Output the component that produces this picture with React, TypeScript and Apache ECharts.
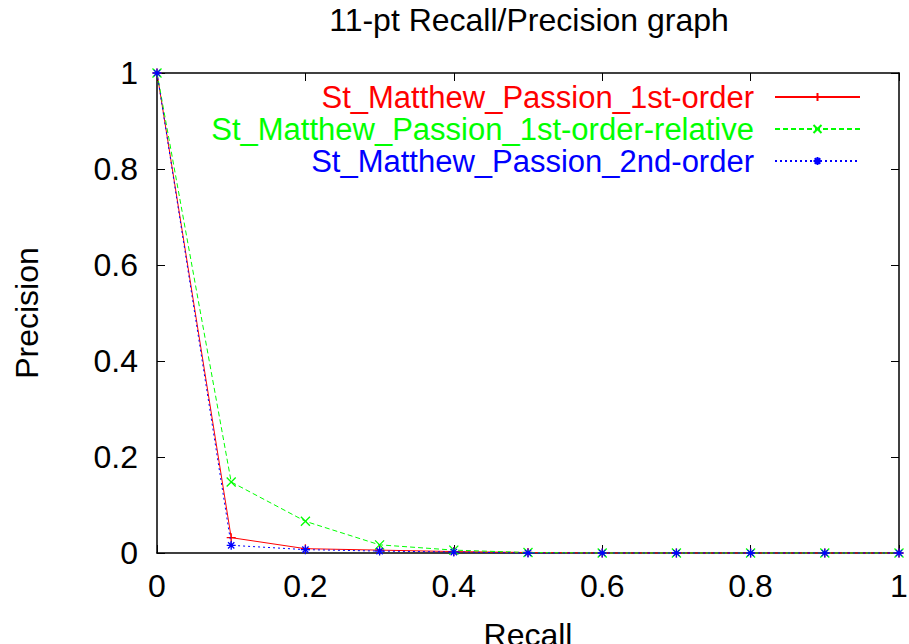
import React, { useEffect, useRef } from "react";
import * as echarts from "echarts";

const recall = [0, 0.1, 0.2, 0.3, 0.4, 0.5, 0.6, 0.7, 0.8, 0.9, 1];
const firstOrder = [1, 0.032, 0.009, 0.006, 0.003, 0.001, 0, 0, 0, 0, 0];
const firstOrderRelative = [1, 0.148, 0.066, 0.017, 0.006, 0.001, 0, 0, 0, 0, 0];
const secondOrder = [1, 0.016, 0.007, 0.004, 0.002, 0, 0, 0, 0, 0, 0];
const seriesNames = [
  "St_Matthew_Passion_1st-order",
  "St_Matthew_Passion_1st-order-relative",
  "St_Matthew_Passion_2nd-order",
];

const FONT = "'Liberation Sans', Arial, Helvetica, sans-serif";
const FS = 32;
const PLUS = "path://M5 0L5 10M0 5L10 5";
const CROSS = "path://M0 0L10 10M10 0L0 10";
const STAR = "path://M5 0L5 10M0 5L10 5M1.5 1.5L8.5 8.5M8.5 1.5L1.5 8.5";

function fmt(v: number) {
  return String(Math.round(v * 10) / 10);
}

export default function App() {
  const ref = useRef<HTMLDivElement>(null);
  useEffect(() => {
    if (!ref.current) return;
    const chart = echarts.init(ref.current, undefined, { renderer: "svg", width: 909, height: 644 });
    const colors = ["#ff0000", "#00ff00", "#0000ff"];
    const values = [firstOrder, firstOrderRelative, secondOrder];
    const symbols = [PLUS, CROSS, STAR];
    const dashes: any[] = ["solid", [5, 3], [2, 3]];
    const axisCommon = {
      type: "value" as const,
      min: 0,
      max: 1,
      interval: 0.2,
      splitLine: { show: false },
      axisLine: { show: true, onZero: false, lineStyle: { color: "#000", width: 1.5 } },
      axisTick: { show: true, inside: true, length: 8, lineStyle: { color: "#000", width: 1 } },
    };
    chart.setOption({
      animation: false,
      backgroundColor: "#fff",
      title: {
        text: "11-pt Recall/Precision graph",
        left: 529,
        textAlign: "center",
        top: 4,
        padding: 0,
        textStyle: { fontFamily: FONT, fontSize: FS, fontWeight: "normal", color: "#000" },
      },
      grid: { left: 157, right: 10, top: 73, bottom: 91, show: false, containLabel: false, outerBoundsMode: "none" },
      legend: {
        orient: "vertical",
        right: 48,
        top: 81,
        align: "right",
        itemWidth: 85,
        itemHeight: 10,
        itemGap: 0,
        padding: 0,
        textStyle: { fontFamily: FONT, fontSize: 31, lineHeight: 32, padding: [0, 16, 0, 0] },
        data: seriesNames.map((n, i) => ({ name: n, textStyle: { color: colors[i] } })),
      },
      xAxis: [
        {
          ...axisCommon,
          position: "bottom",
          name: "Recall",
          nameLocation: "middle",
          nameGap: 66,
          nameTextStyle: { fontFamily: FONT, fontSize: FS, color: "#000" },
          axisLabel: { margin: 17, fontFamily: FONT, fontSize: FS, color: "#000", formatter: (v: number) => fmt(v) },
        },
        {
          ...axisCommon,
          position: "top",
          axisLabel: { show: false },
        },
      ],
      yAxis: [
        {
          ...axisCommon,
          position: "left",
          name: "Precision",
          nameLocation: "middle",
          nameGap: 114,
          nameTextStyle: { fontFamily: FONT, fontSize: FS, color: "#000" },
          axisLabel: { margin: 19, fontFamily: FONT, fontSize: FS, color: "#000", formatter: (v: number) => fmt(v) },
        },
        {
          ...axisCommon,
          position: "right",
          axisLabel: { show: false },
        },
      ],
      series: seriesNames.map((n, i) => ({
        name: n,
        type: "line",
        xAxisIndex: 0,
        yAxisIndex: 0,
        clip: false,
        symbol: symbols[i],
        symbolSize: 9,
        showAllSymbol: true,
        data: recall.map((x, j) => [x, values[i][j]]),
        lineStyle: { color: colors[i], width: 1, type: dashes[i] },
        itemStyle: { color: "rgba(0,0,0,0)", borderColor: colors[i], borderWidth: 1.3 },
        emphasis: { disabled: true },
        z: 3 + i,
      })),
    });
    return () => chart.dispose();
  }, []);
  return (
    <div
      ref={ref}
      style={{ position: "fixed", left: 0, top: 0, width: 909, height: 644, background: "#fff" }}
    />
  );
}
